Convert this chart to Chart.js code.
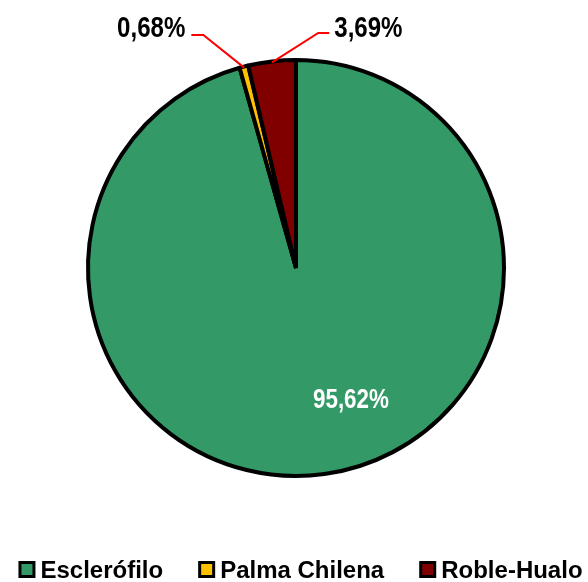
<!DOCTYPE html>
<html>
<head>
<meta charset="utf-8">
<script src="https://cdn.jsdelivr.net/npm/chart.js@4/dist/chart.umd.min.js"></script>
<style>
  html, body { margin: 0; padding: 0; background: #fff; }
  #wrap { width: 588px; height: 582px; position: relative; }
</style>
</head>
<body>
<div id="wrap"><canvas id="c" width="588" height="582"></canvas></div>
<script>
const categories = ['Esclerófilo', 'Palma Chilena', 'Roble-Hualo'];
const values = [95.62, 0.68, 3.69];
const valueLabels = ['95,62%', '0,68%', '3,69%'];
const colors = ['#339966', '#FFC000', '#800000'];

const FONT = '"Liberation Sans", Arial, sans-serif';

// label placement rules (relative to each slice's arc)
const labelRules = [
  { inside: true, angleDeg: 67.5, frac: 0.684, color: '#ffffff', size: 27 },
  { inside: false, elbow: [-40.8, -32.7], end: [-52.8, -32.7], align: 'right', dx: -6, dy: 2, color: '#000000', size: 29 },
  { inside: false, elbow: [46.2, -29.5], end: [57.2, -29.5], align: 'left', dx: 5, dy: 4, color: '#000000', size: 29 }
];
const SQUEEZE = 0.83;

function drawSqueezed(ctx, text, x, y, align) {
  ctx.save();
  ctx.translate(x, y);
  ctx.scale(SQUEEZE, 1);
  ctx.textAlign = align;
  ctx.fillText(text, 0, 0);
  ctx.restore();
}

const labelPlugin = {
  id: 'sliceLabels',
  afterDatasetsDraw(chart) {
    const ctx = chart.ctx;
    const meta = chart.getDatasetMeta(0);
    meta.data.forEach((arc, i) => {
      const rule = labelRules[i];
      const cx = arc.x, cy = arc.y, r = arc.outerRadius + 2;
      ctx.save();
      ctx.font = 'bold ' + rule.size + 'px ' + FONT;
      ctx.fillStyle = rule.color;
      if (rule.inside) {
        const a = rule.angleDeg * Math.PI / 180;
        const x = cx + Math.cos(a) * r * rule.frac;
        const y = cy + Math.sin(a) * r * rule.frac;
        ctx.textBaseline = 'middle';
        drawSqueezed(ctx, valueLabels[i], x, y, 'center');
      } else {
        const mid = (arc.startAngle + arc.endAngle) / 2;
        const ax = cx + Math.cos(mid) * (r - 3);
        const ay = cy + Math.sin(mid) * (r - 3);
        const ex = ax + rule.elbow[0], ey = ay + rule.elbow[1];
        const tx = ax + rule.end[0], ty = ay + rule.end[1];
        ctx.strokeStyle = '#FF0000';
        ctx.lineWidth = 2;
        ctx.beginPath();
        ctx.moveTo(ax, ay);
        ctx.lineTo(ex, ey);
        ctx.lineTo(tx, ty);
        ctx.stroke();
        ctx.textBaseline = 'alphabetic';
        drawSqueezed(ctx, valueLabels[i], tx + rule.dx, ty + rule.dy, rule.align);
      }
      ctx.restore();
    });
  }
};

const legendPlugin = {
  id: 'bottomLegend',
  afterDraw(chart) {
    const ctx = chart.ctx;
    const items = chart.options.plugins.legend.labels.generateLabels(chart);
    ctx.save();
    ctx.font = 'bold 24px ' + FONT;
    const box = 17, gapText = 5, gapItem = 35;
    const widths = items.map(it => box + gapText + ctx.measureText(it.text).width);
    const total = widths.reduce((a, b) => a + b, 0) + gapItem * (items.length - 1);
    let x = 300.5 - total / 2;
    const boxTop = 561, baseline = 578;
    items.forEach((it, i) => {
      ctx.fillStyle = it.fillStyle;
      ctx.fillRect(x + 1.5, boxTop + 1.5, box - 3, box - 3);
      ctx.strokeStyle = '#000000';
      ctx.lineWidth = 3;
      ctx.strokeRect(x + 1.5, boxTop + 1.5, box - 3, box - 3);
      ctx.fillStyle = '#000000';
      ctx.textAlign = 'left';
      ctx.textBaseline = 'alphabetic';
      ctx.fillText(it.text, x + box + gapText, baseline);
      x += widths[i] + gapItem;
    });
    ctx.restore();
  }
};

new Chart(document.getElementById('c'), {
  type: 'pie',
  data: {
    labels: categories,
    datasets: [{
      data: values,
      backgroundColor: colors,
      borderColor: '#000000',
      borderWidth: 4
    }]
  },
  options: {
    responsive: false,
    animation: false,
    layout: { padding: { top: 58, left: 4, right: 0, bottom: 104 } },
    plugins: {
      tooltip: { enabled: false },
      legend: { display: false }
    }
  },
  plugins: [labelPlugin, legendPlugin]
});
</script>
</body>
</html>
